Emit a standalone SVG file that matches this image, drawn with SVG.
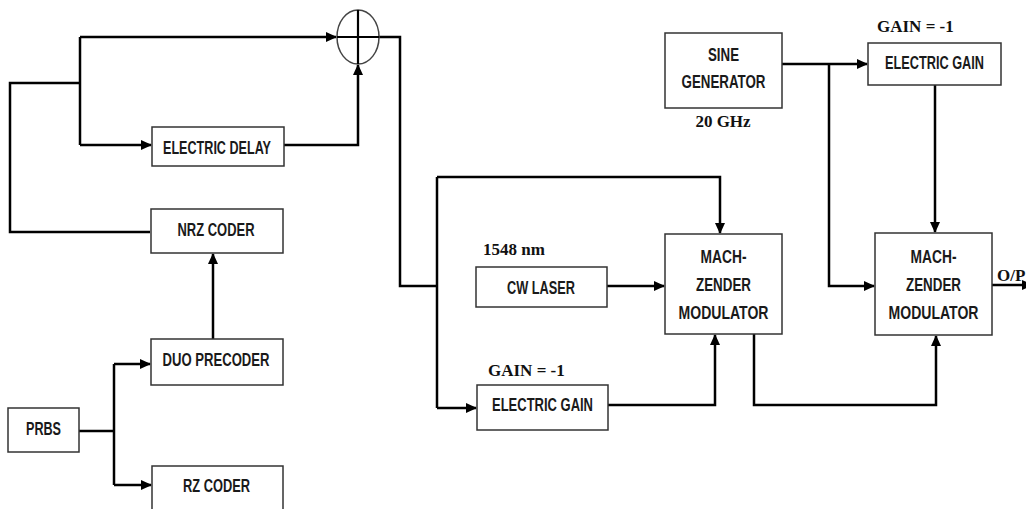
<svg xmlns="http://www.w3.org/2000/svg" width="1026" height="509" viewBox="0 0 1026 509">
<defs>
<marker id="arr" markerUnits="userSpaceOnUse" markerWidth="11" markerHeight="10" refX="10" refY="5" orient="auto">
<path d="M0,0 L11,5 L0,10 z" fill="#000"/>
</marker>
<style>
.box{fill:#fff;stroke:#333;stroke-width:1.5}
.lbl{font-family:"Liberation Sans Narrow","Liberation Sans",Arial,sans-serif;font-size:18px;font-weight:bold;fill:#1a1a1a;text-anchor:middle}
.note{font-family:"Liberation Serif","Times New Roman",serif;font-size:17px;font-weight:bold;fill:#111}
.wire{fill:none;stroke:#000;stroke-width:2.5;stroke-linejoin:miter}
.arrow{marker-end:url(#arr)}
</style>
</defs>
<rect width="1026" height="509" fill="#fff"/>

<g id="connectors">
<path class="wire" d="M379,37 H400 V286 H437"/>
<path class="wire" d="M437,177 V408"/>
<path class="wire arrow" d="M437,177 H720 V233"/>
<path class="wire arrow" d="M437,408 H476"/>
<path class="wire" d="M150,232 H10 V83 H80"/>
<path class="wire" d="M80,37 V145"/>
<path class="wire arrow" d="M80,37 H336"/>
<path class="wire arrow" d="M80,145 H151"/>
<path class="wire arrow" d="M284,145 H358 V65"/>
<path class="wire arrow" d="M213,339 V254"/>
<path class="wire" d="M79,431 H114"/>
<path class="wire" d="M114,364 V485"/>
<path class="wire arrow" d="M114,364 H150"/>
<path class="wire arrow" d="M114,485 H151"/>
<path class="wire arrow" d="M607,286 H664"/>
<path class="wire arrow" d="M608,405 H715 V335"/>
<path class="wire arrow" d="M754,334 V405 H936 V336"/>
<path class="wire arrow" d="M782,64 H867"/>
<path class="wire arrow" d="M829,64 V286 H874"/>
<path class="wire arrow" d="M935,85 V232"/>
<path class="wire arrow" d="M992,285 H1032"/>
</g>

<g id="summer">
<ellipse cx="358" cy="37" rx="21" ry="27" fill="none" stroke="#444" stroke-width="1.5"/>
<path d="M337,37 H379 M358,10 V64" stroke="#000" stroke-width="2.2"/>
</g>

<g id="electric-delay">
<rect class="box" x="152" y="127" width="132" height="39"/>
<text class="lbl" x="217" y="154" textLength="108" lengthAdjust="spacingAndGlyphs">ELECTRIC DELAY</text>
</g>

<g id="nrz-coder">
<rect class="box" x="151" y="209" width="132" height="44"/>
<text class="lbl" x="216" y="236" textLength="77" lengthAdjust="spacingAndGlyphs">NRZ CODER</text>
</g>

<g id="duo-precoder">
<rect class="box" x="151" y="339" width="132" height="46"/>
<text class="lbl" x="216" y="366" textLength="107" lengthAdjust="spacingAndGlyphs">DUO PRECODER</text>
</g>

<g id="prbs">
<rect class="box" x="8" y="408" width="71" height="44"/>
<text class="lbl" x="43.5" y="435" textLength="35" lengthAdjust="spacingAndGlyphs">PRBS</text>
</g>

<g id="rz-coder">
<rect class="box" x="152" y="466" width="131" height="60"/>
<text class="lbl" x="216.5" y="492" textLength="67" lengthAdjust="spacingAndGlyphs">RZ CODER</text>
</g>

<g id="cw-laser">
<text class="note" x="483" y="255">1548 nm</text>
<rect class="box" x="476" y="267" width="131" height="40"/>
<text class="lbl" x="541" y="294" textLength="68" lengthAdjust="spacingAndGlyphs">CW LASER</text>
</g>

<g id="electric-gain-1">
<text class="note" x="488" y="376">GAIN = -1</text>
<rect class="box" x="477" y="385" width="131" height="45"/>
<text class="lbl" x="542.5" y="411" textLength="101" lengthAdjust="spacingAndGlyphs">ELECTRIC GAIN</text>
</g>

<g id="mzm-1">
<rect class="box" x="665" y="234" width="117" height="100"/>
<text class="lbl" x="723.5" y="263" textLength="46" lengthAdjust="spacingAndGlyphs">MACH-</text>
<text class="lbl" x="723.5" y="291" textLength="55" lengthAdjust="spacingAndGlyphs">ZENDER</text>
<text class="lbl" x="723.5" y="319" textLength="90" lengthAdjust="spacingAndGlyphs">MODULATOR</text>
</g>

<g id="sine-generator">
<rect class="box" x="665" y="33" width="117" height="75"/>
<text class="lbl" x="723.5" y="61" textLength="31" lengthAdjust="spacingAndGlyphs">SINE</text>
<text class="lbl" x="723.5" y="88" textLength="84" lengthAdjust="spacingAndGlyphs">GENERATOR</text>
<text class="note" x="723" y="127" text-anchor="middle">20 GHz</text>
</g>

<g id="electric-gain-2">
<text class="note" x="877" y="32">GAIN = -1</text>
<rect class="box" x="868" y="43" width="133" height="42"/>
<text class="lbl" x="934.5" y="69" textLength="99" lengthAdjust="spacingAndGlyphs">ELECTRIC GAIN</text>
</g>

<g id="mzm-2">
<rect class="box" x="875" y="233" width="117" height="102"/>
<text class="lbl" x="933.5" y="263" textLength="46" lengthAdjust="spacingAndGlyphs">MACH-</text>
<text class="lbl" x="933.5" y="291" textLength="55" lengthAdjust="spacingAndGlyphs">ZENDER</text>
<text class="lbl" x="933.5" y="319" textLength="90" lengthAdjust="spacingAndGlyphs">MODULATOR</text>
</g>

<g id="output">
<text class="note" x="997" y="281" font-size="16">O/P</text>
</g>
</svg>
